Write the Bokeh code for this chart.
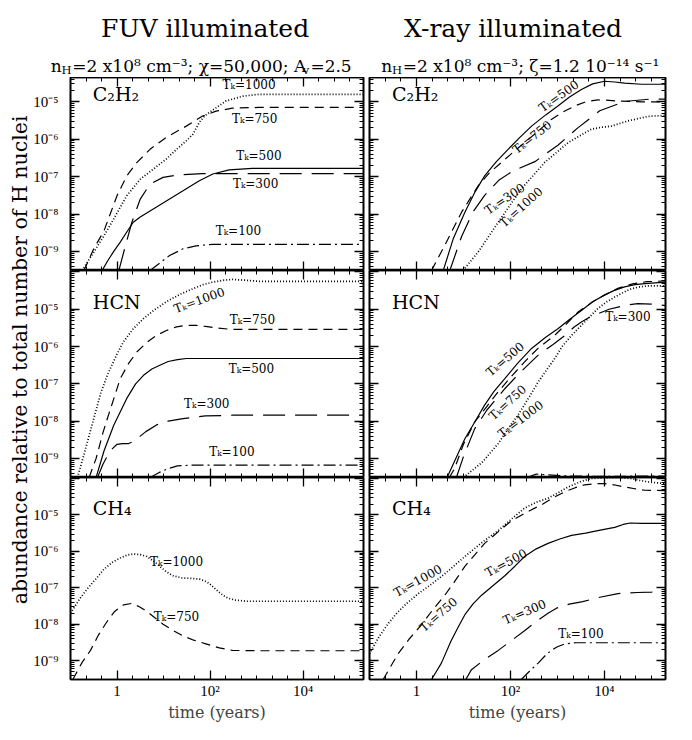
import math
from bokeh.plotting import figure
from bokeh.models import Range1d, LogAxis, FixedTicker, GridBox, CustomJSTickFormatter
from bokeh.core.properties import value
from bokeh.embed import file_html
from bokeh.resources import INLINE

FONT = "DejaVu Serif"
TICK_FONT = "Liberation Serif"

# ---------------- texts ----------------
TITLES = ["FUV illuminated", "X-ray illuminated"]
SUB_LEFT = [("n", "main"), ("H", "sub"), ("=2 x10⁸ cm⁻³; χ=50,000; A", "main"), ("v", "sub"), ("=2.5", "main")]
SUB_RIGHT = [("n", "main"), ("H", "sub"), ("=2 x10⁸ cm⁻³; ζ=1.2 10⁻¹⁴ s⁻¹", "main")]
YLABEL = "abundance relative to total number of H nuclei"
XLABEL = "time (years)"
MOLECULES = ["C₂H₂", "HCN", "CH₄"]

# ---------------- axes (log10 extents) ----------------
X_LOG_RANGE = (-1.0, 5.3)
Y_LOG_RANGES = [(-9.51, -4.35), (-9.51, -3.96), (-9.52, -3.97)]
X_TICK_EXP = [0, 2, 4]
X_TICK_LABELS = ["1", "10²", "10⁴"]
Y_TICK_EXP = [-9, -8, -7, -6, -5]
Y_TICK_LABELS = ["10⁻⁹", "10⁻⁸", "10⁻⁷", "10⁻⁶", "10⁻⁵"]

# ---------------- data: log10(time/yr), log10(abundance) ----------------
# FUV, C2H2
fuv_c2h2_t1000_lt = [-0.75, -0.5, -0.28, -0.07, 0.21, 0.5, 0.78, 1.06, 1.28, 1.49, 1.63, 1.77, 1.88, 2.06, 2.34, 2.7, 3.05, 4.0, 5.3]
fuv_c2h2_t1000_la = [-9.51, -9.02, -8.58, -8.13, -7.51, -7.07, -6.8, -6.53, -6.27, -6.04, -5.87, -5.55, -5.38, -5.22, -4.98, -4.85, -4.8, -4.8, -4.8]
fuv_c2h2_t750_lt = [-0.71, -0.5, -0.28, 0.0, 0.21, 0.43, 0.71, 1.06, 1.49, 1.84, 2.13, 2.48, 3.05, 5.3]
fuv_c2h2_t750_la = [-9.51, -8.93, -8.45, -7.51, -6.98, -6.62, -6.27, -5.95, -5.65, -5.38, -5.25, -5.17, -5.15, -5.15]
fuv_c2h2_t500_lt = [-0.32, -0.2, -0.07, 0.07, 0.21, 0.35, 0.5, 0.71, 1.06, 1.42, 1.77, 2.06, 2.41, 2.91, 5.3]
fuv_c2h2_t500_la = [-9.51, -9.25, -9.0, -8.75, -8.48, -8.22, -8.08, -7.92, -7.65, -7.38, -7.11, -6.93, -6.82, -6.78, -6.78]
fuv_c2h2_t300_lt = [0.04, 0.18, 0.32, 0.5, 0.71, 0.99, 1.35, 1.84, 5.3]
fuv_c2h2_t300_la = [-9.51, -8.85, -8.22, -7.6, -7.2, -7.02, -6.95, -6.92, -6.92]
fuv_c2h2_t100_lt = [0.71, 0.92, 1.13, 1.42, 1.7, 2.06, 5.3]
fuv_c2h2_t100_la = [-9.51, -9.31, -9.11, -8.93, -8.85, -8.81, -8.81]

# X-ray, C2H2
xr_c2h2_t1000_lt = [0.99, 1.31, 1.74, 2.23, 2.73, 3.23, 3.72, 3.95, 4.15, 4.5, 4.93, 5.3]
xr_c2h2_t1000_la = [-9.51, -9.02, -8.22, -7.33, -6.62, -6.09, -5.73, -5.68, -5.65, -5.51, -5.39, -5.36]
xr_c2h2_t750_lt = [0.32, 0.6, 0.96, 1.31, 1.55, 1.81, 2.1, 2.37, 2.62, 2.87, 3.12, 3.37, 3.6, 3.86, 4.1, 4.29, 4.79, 5.3]
xr_c2h2_t750_la = [-9.51, -8.84, -7.95, -7.25, -6.9, -6.62, -6.3, -6.02, -5.75, -5.47, -5.27, -5.11, -5.0, -4.95, -4.96, -4.98, -5.0, -5.0]
xr_c2h2_t500_lt = [0.57, 0.78, 1.03, 1.25, 1.45, 1.7, 1.95, 2.2, 2.45, 2.75, 3.01, 3.25, 3.51, 3.75, 4.0, 4.22, 4.43, 4.79, 5.3]
xr_c2h2_t500_la = [-9.51, -8.67, -7.95, -7.4, -6.98, -6.6, -6.27, -5.95, -5.65, -5.35, -5.11, -4.88, -4.67, -4.52, -4.45, -4.47, -4.5, -4.53, -4.53]
xr_c2h2_t300_lt = [0.71, 0.96, 1.2, 1.45, 1.75, 2.05, 2.52, 3.01, 3.44, 3.9, 4.43, 4.96, 5.3]
xr_c2h2_t300_la = [-9.51, -8.6, -7.95, -7.5, -7.1, -6.85, -6.6, -6.16, -5.69, -5.24, -4.99, -4.93, -4.93]

# FUV, HCN
fuv_hcn_t1000_lt = [-0.85, -0.7, -0.5, -0.35, -0.21, 0.0, 0.14, 0.35, 0.57, 0.8, 1.06, 1.35, 1.63, 1.85, 2.06, 2.3, 2.48, 2.75, 3.05, 5.3]
fuv_hcn_t1000_la = [-9.51, -8.85, -7.93, -7.25, -6.77, -6.2, -5.87, -5.52, -5.25, -5.02, -4.8, -4.6, -4.45, -4.34, -4.27, -4.22, -4.2, -4.22, -4.25, -4.25]
fuv_hcn_t750_lt = [-0.6, -0.45, -0.3, -0.2, 0.07, 0.25, 0.43, 0.65, 0.85, 1.06, 1.28, 1.5, 1.7, 1.9, 2.13, 2.48, 5.3]
fuv_hcn_t750_la = [-9.51, -9.0, -8.3, -7.9, -6.86, -6.45, -6.14, -5.88, -5.7, -5.57, -5.47, -5.43, -5.43, -5.46, -5.5, -5.54, -5.54]
fuv_hcn_t500_lt = [-0.45, -0.28, -0.07, 0.21, 0.4, 0.57, 0.75, 0.92, 1.1, 1.3, 1.49, 5.3]
fuv_hcn_t500_la = [-9.51, -8.8, -8.11, -7.39, -7.0, -6.77, -6.6, -6.5, -6.4, -6.35, -6.32, -6.32]
fuv_hcn_t300_lt = [-0.42, -0.3, -0.15, 0.0, 0.12, 0.25, 0.38, 0.5, 0.62, 0.85, 1.1, 1.42, 1.9, 2.5, 5.3]
fuv_hcn_t300_la = [-9.51, -9.15, -8.8, -8.62, -8.6, -8.6, -8.53, -8.4, -8.28, -8.1, -8.0, -7.93, -7.86, -7.84, -7.84]
fuv_hcn_t100_lt = [0.71, 0.9, 1.1, 1.3, 1.6, 5.3]
fuv_hcn_t100_la = [-9.51, -9.38, -9.27, -9.2, -9.18, -9.18]

# X-ray, HCN
xr_hcn_t1000_lt = [1.0, 1.4, 1.74, 1.95, 2.16, 2.4, 2.59, 2.94, 3.1, 3.3, 3.58, 3.86, 4.05, 4.22, 4.4, 4.57, 4.75, 4.93, 5.3]
xr_hcn_t1000_la = [-9.51, -9.1, -8.6, -8.2, -7.84, -7.35, -6.95, -6.32, -6.0, -5.7, -5.34, -4.98, -4.8, -4.67, -4.55, -4.45, -4.4, -4.37, -4.37]
xr_hcn_t750_lt = [0.7, 0.81, 1.0, 1.24, 1.5, 1.74, 2.0, 2.3, 2.6, 2.94, 3.2, 3.44, 3.75, 4.0, 4.3, 4.6, 4.9, 5.3]
xr_hcn_t750_la = [-9.51, -9.27, -8.62, -8.02, -7.6, -7.21, -6.83, -6.41, -6.03, -5.7, -5.38, -5.07, -4.8, -4.62, -4.43, -4.32, -4.26, -4.24]
xr_hcn_t500_lt = [0.65, 0.71, 1.03, 1.25, 1.45, 1.65, 1.88, 2.15, 2.45, 2.75, 3.01, 3.25, 3.51, 3.75, 4.0, 4.2, 4.43, 4.65, 4.86, 5.3]
xr_hcn_t500_la = [-9.51, -9.35, -8.47, -8.0, -7.57, -7.2, -6.86, -6.45, -6.05, -5.75, -5.52, -5.28, -5.03, -4.8, -4.62, -4.5, -4.4, -4.34, -4.31, -4.27]
xr_hcn_t300_lt = [0.85, 1.0, 1.24, 1.5, 1.88, 2.2, 2.59, 2.9, 3.16, 3.35, 3.51, 3.7, 3.86, 4.1, 4.29, 4.5, 4.71, 5.0, 5.3]
xr_hcn_t300_la = [-9.51, -8.95, -8.2, -7.7, -7.13, -6.7, -6.23, -5.95, -5.7, -5.48, -5.34, -5.2, -5.12, -5.0, -4.94, -4.88, -4.85, -4.86, -4.9]
xr_hcn_t100_lt = [2.35, 2.55, 2.8, 3.2, 4.0, 5.3]
xr_hcn_t100_la = [-9.51, -9.42, -9.44, -9.47, -9.48, -9.47]

# FUV, CH4
fuv_ch4_t1000_lt = [-1.0, -0.8, -0.64, -0.45, -0.28, -0.1, 0.07, 0.22, 0.35, 0.5, 0.64, 0.8, 0.92, 1.05, 1.21, 1.4, 1.56, 1.77, 1.9, 1.99, 2.13, 2.27, 2.4, 2.55, 2.8, 3.05, 5.3]
fuv_ch4_t1000_la = [-7.7, -7.3, -7.03, -6.75, -6.49, -6.3, -6.18, -6.1, -6.07, -6.09, -6.14, -6.28, -6.41, -6.55, -6.67, -6.73, -6.74, -6.76, -6.82, -6.89, -7.05, -7.2, -7.29, -7.34, -7.37, -7.37, -7.37]
fuv_ch4_t750_lt = [-0.95, -0.75, -0.57, -0.4, -0.21, -0.05, 0.14, 0.32, 0.48, 0.64, 0.82, 0.99, 1.2, 1.42, 1.65, 1.91, 2.2, 2.48, 3.05, 5.3]
fuv_ch4_t750_la = [-9.52, -9.05, -8.72, -8.3, -7.92, -7.65, -7.47, -7.43, -7.52, -7.65, -7.83, -8.0, -8.17, -8.32, -8.44, -8.54, -8.65, -8.72, -8.73, -8.73]

# X-ray, CH4
xr_ch4_t1000_lt = [-1.0, -0.8, -0.6, -0.4, -0.2, 0.05, 0.32, 0.6, 1.03, 1.4, 1.74, 2.05, 2.3, 2.55, 2.8, 3.0, 3.23, 3.5, 3.72, 4.0, 4.3, 4.57, 4.75, 4.93, 5.3]
xr_ch4_t1000_la = [-8.81, -8.35, -7.98, -7.67, -7.42, -7.15, -6.9, -6.62, -6.14, -5.75, -5.43, -5.08, -4.81, -4.65, -4.54, -4.4, -4.23, -4.08, -4.0, -3.98, -3.97, -4.0, -4.05, -4.09, -4.14]
xr_ch4_t750_lt = [-0.71, -0.39, -0.15, 0.11, 0.35, 0.6, 0.8, 1.03, 1.25, 1.45, 1.75, 2.02, 2.35, 2.66, 2.9, 3.16, 3.38, 3.58, 3.8, 4.0, 4.2, 4.43, 4.65, 4.86, 5.3]
xr_ch4_t750_la = [-9.52, -8.81, -8.4, -8.01, -7.6, -7.21, -6.85, -6.41, -6.08, -5.78, -5.45, -5.16, -4.92, -4.72, -4.53, -4.36, -4.25, -4.17, -4.14, -4.14, -4.17, -4.23, -4.28, -4.32, -4.33]
xr_ch4_t500_lt = [0.32, 0.53, 0.74, 0.9, 1.03, 1.2, 1.38, 1.62, 1.88, 2.1, 2.3, 2.55, 2.8, 3.05, 3.3, 3.6, 3.86, 4.05, 4.22, 4.4, 4.55, 4.79, 5.3]
xr_ch4_t500_la = [-9.52, -9.07, -8.45, -8.05, -7.74, -7.45, -7.21, -6.95, -6.67, -6.4, -6.14, -5.93, -5.78, -5.66, -5.56, -5.5, -5.43, -5.38, -5.34, -5.26, -5.22, -5.23, -5.23]
xr_ch4_t300_lt = [1.05, 1.17, 1.45, 1.74, 2.0, 2.3, 2.6, 2.8, 2.98, 3.25, 3.54, 3.9, 4.29, 4.7, 5.0, 5.3]
xr_ch4_t300_la = [-9.52, -9.25, -8.97, -8.72, -8.47, -8.18, -7.88, -7.7, -7.56, -7.45, -7.38, -7.26, -7.16, -7.13, -7.12, -7.1]
xr_ch4_t100_lt = [2.23, 2.4, 2.59, 2.75, 2.87, 3.0, 3.16, 3.4, 5.3]
xr_ch4_t100_la = [-9.52, -9.3, -9.07, -8.85, -8.72, -8.62, -8.54, -8.51, -8.51]

# ---------------- curve labels: T_k value, log t, log a, angle (deg) ----------------
fuv_c2h2_lab_tk = [1000, 750, 500, 300, 100]
fuv_c2h2_lab_lt = [2.84, 2.96, 3.05, 2.98, 2.61]
fuv_c2h2_lab_la = [-4.55, -5.45, -6.45, -7.2, -8.45]
fuv_c2h2_lab_ang = [0, 0, 0, 0, 0]

xr_c2h2_lab_tk = [500, 750, 300, 1000]
xr_c2h2_lab_lt = [3.03, 2.46, 1.88, 2.23]
xr_c2h2_lab_la = [-4.85, -5.95, -7.6, -7.82]
xr_c2h2_lab_ang = [35, 38, 34, 42]

fuv_hcn_lab_tk = [1000, 750, 500, 300, 100]
fuv_hcn_lab_lt = [1.77, 2.91, 2.89, 1.93, 2.47]
fuv_hcn_lab_la = [-4.76, -5.29, -6.59, -7.53, -8.82]
fuv_hcn_lab_ang = [20, 0, 0, 0, 0]

xr_hcn_lab_tk = [500, 750, 1000, 300]
xr_hcn_lab_lt = [1.89, 1.94, 2.22, 4.5]
xr_hcn_lab_la = [-6.34, -7.5, -7.95, -5.2]
xr_hcn_lab_ang = [40, 42, 37, 0]

fuv_ch4_lab_tk = [1000, 750]
fuv_ch4_lab_lt = [1.28, 1.28]
fuv_ch4_lab_la = [-6.3, -7.81]
fuv_ch4_lab_ang = [0, 0]

xr_ch4_lab_tk = [1000, 750, 500, 300, 100]
xr_ch4_lab_lt = [0.03, 0.47, 1.91, 2.3, 3.5]
xr_ch4_lab_la = [-6.81, -7.74, -6.32, -7.67, -8.27]
xr_ch4_lab_ang = [29, 41, 28, 23, 0]

MOL_LT = -0.52
MOL_LA = -4.8

# ---------------- assemble ----------------
PANELS = [
    [
        dict(curves=[(1000, fuv_c2h2_t1000_lt, fuv_c2h2_t1000_la), (750, fuv_c2h2_t750_lt, fuv_c2h2_t750_la),
                     (500, fuv_c2h2_t500_lt, fuv_c2h2_t500_la), (300, fuv_c2h2_t300_lt, fuv_c2h2_t300_la),
                     (100, fuv_c2h2_t100_lt, fuv_c2h2_t100_la)],
             labels=(fuv_c2h2_lab_tk, fuv_c2h2_lab_lt, fuv_c2h2_lab_la, fuv_c2h2_lab_ang)),
        dict(curves=[(1000, xr_c2h2_t1000_lt, xr_c2h2_t1000_la), (750, xr_c2h2_t750_lt, xr_c2h2_t750_la),
                     (500, xr_c2h2_t500_lt, xr_c2h2_t500_la), (300, xr_c2h2_t300_lt, xr_c2h2_t300_la)],
             labels=(xr_c2h2_lab_tk, xr_c2h2_lab_lt, xr_c2h2_lab_la, xr_c2h2_lab_ang)),
    ],
    [
        dict(curves=[(1000, fuv_hcn_t1000_lt, fuv_hcn_t1000_la), (750, fuv_hcn_t750_lt, fuv_hcn_t750_la),
                     (500, fuv_hcn_t500_lt, fuv_hcn_t500_la), (300, fuv_hcn_t300_lt, fuv_hcn_t300_la),
                     (100, fuv_hcn_t100_lt, fuv_hcn_t100_la)],
             labels=(fuv_hcn_lab_tk, fuv_hcn_lab_lt, fuv_hcn_lab_la, fuv_hcn_lab_ang)),
        dict(curves=[(1000, xr_hcn_t1000_lt, xr_hcn_t1000_la), (750, xr_hcn_t750_lt, xr_hcn_t750_la),
                     (500, xr_hcn_t500_lt, xr_hcn_t500_la), (300, xr_hcn_t300_lt, xr_hcn_t300_la),
                     (100, xr_hcn_t100_lt, xr_hcn_t100_la)],
             labels=(xr_hcn_lab_tk, xr_hcn_lab_lt, xr_hcn_lab_la, xr_hcn_lab_ang)),
    ],
    [
        dict(curves=[(1000, fuv_ch4_t1000_lt, fuv_ch4_t1000_la), (750, fuv_ch4_t750_lt, fuv_ch4_t750_la)],
             labels=(fuv_ch4_lab_tk, fuv_ch4_lab_lt, fuv_ch4_lab_la, fuv_ch4_lab_ang)),
        dict(curves=[(1000, xr_ch4_t1000_lt, xr_ch4_t1000_la), (750, xr_ch4_t750_lt, xr_ch4_t750_la),
                     (500, xr_ch4_t500_lt, xr_ch4_t500_la), (300, xr_ch4_t300_lt, xr_ch4_t300_la),
                     (100, xr_ch4_t100_lt, xr_ch4_t100_la)],
             labels=(xr_ch4_lab_tk, xr_ch4_lab_lt, xr_ch4_lab_la, xr_ch4_lab_ang)),
    ],
]

STYLES = {
    1000: dict(line_dash="1 2", line_width=1.7),
    750: dict(line_dash="9 6", line_width=1.2),
    500: dict(line_dash="solid", line_width=1.2),
    300: dict(line_dash="22 10", line_width=1.2),
    100: dict(line_dash="12 4 2 4", line_width=1.2),
}

# ---------------- layout geometry (px) ----------------
TOTAL_W = 676
HEADER_H = 77
YLAB_W = 30
FRAME_W = 296
COL_BORDERS = [(37, 3), (3, 11)]   # (left, right)
ROW_FRAME_H = [193, 207, 207]
BOTTOM_BORDER = 40
BODY_H = sum(ROW_FRAME_H) + BOTTOM_BORDER

X_MAJOR = [10.0 ** e for e in X_TICK_EXP]
X_MINOR = [10.0 ** (k / 3.0) for k in range(-3, 17) if k % 6 != 0]
Y_MAJOR = [10.0 ** e for e in range(-10, -2)]
Y_MINOR = [m * 10.0 ** e for e in range(-10, -3) for m in range(2, 10)]

FMT_CODE = """
const e = Math.log10(tick);
for (let i = 0; i < ex.length; i++) {
    if (Math.abs(e - ex[i]) < 1e-6) { return lb[i]; }
}
return "";
"""


def style_axis(ax, labeled, exps, labels, size):
    ax.axis_line_color = "black"
    ax.axis_line_width = 1.6
    ax.major_tick_in = 9
    ax.major_tick_out = 0
    ax.minor_tick_in = 4
    ax.minor_tick_out = 0
    ax.major_tick_line_width = 1.3
    ax.minor_tick_line_width = 1.0
    ax.major_tick_line_color = "black"
    ax.minor_tick_line_color = "black"
    if labeled:
        ax.formatter = CustomJSTickFormatter(args=dict(ex=exps, lb=labels), code=FMT_CODE)
        ax.major_label_text_font = TICK_FONT
        ax.major_label_text_font_size = size
        ax.major_label_text_color = "black"
    else:
        ax.formatter = CustomJSTickFormatter(code="return '';")
        ax.major_label_text_font_size = "0px"
        ax.major_label_standoff = 0


def make_panel(r, c):
    lb, rb = COL_BORDERS[c]
    bb = BOTTOM_BORDER if r == 2 else 0
    ylo, yhi = Y_LOG_RANGES[r]
    p = figure(width=lb + FRAME_W + rb, height=ROW_FRAME_H[r] + bb,
               x_axis_type="log", y_axis_type="log",
               x_axis_location=None, y_axis_location=None,
               x_range=Range1d(10 ** X_LOG_RANGE[0], 10 ** X_LOG_RANGE[1]),
               y_range=Range1d(10 ** ylo, 10 ** yhi),
               min_border_left=lb, min_border_right=rb, min_border_top=0, min_border_bottom=bb,
               output_backend="svg", toolbar_location=None)
    p.grid.visible = False
    p.outline_line_color = "black"
    p.outline_line_width = 1.6
    p.background_fill_color = "white"
    p.border_fill_color = "white"

    for loc in ["below", "above"]:
        ax = LogAxis(ticker=FixedTicker(ticks=X_MAJOR, minor_ticks=X_MINOR))
        labeled = (loc == "below" and r == 2)
        style_axis(ax, labeled, X_TICK_EXP, X_TICK_LABELS, "15px")
        if labeled:
            ax.major_label_standoff = 3
            ax.axis_label = XLABEL
            ax.axis_label_text_font = FONT
            ax.axis_label_text_font_size = "16px"
            ax.axis_label_text_font_style = "normal"
            ax.axis_label_standoff = 1
        p.add_layout(ax, loc)
    for loc in ["left", "right"]:
        ax = LogAxis(ticker=FixedTicker(ticks=Y_MAJOR, minor_ticks=Y_MINOR))
        labeled = (loc == "left" and c == 0)
        style_axis(ax, labeled, Y_TICK_EXP, Y_TICK_LABELS, "15px")
        if labeled:
            ax.major_label_standoff = 12
        p.add_layout(ax, loc)

    spec = PANELS[r][c]
    for tk, lt, la in spec["curves"]:
        st = STYLES[tk]
        p.line(x=[10 ** v for v in lt], y=[10 ** v for v in la], line_color="black",
               line_width=st["line_width"], line_dash=st["line_dash"])
    tks, llt, lla, lang = spec["labels"]
    p.text(x=[10 ** v for v in llt], y=[10 ** v for v in lla],
           text=["Tₖ=%d" % t for t in tks], angle=lang, angle_units="deg",
           text_font=value(FONT), text_font_size="12px", text_color="black",
           text_align="center", text_baseline="middle")
    p.text(x=[10 ** MOL_LT], y=[10 ** MOL_LA], text=[MOLECULES[r]],
           text_font=value(FONT), text_font_size="19px", text_color="black",
           text_align="left", text_baseline="middle")
    return p


def blank_figure(w, h):
    f = figure(width=w, height=h, x_range=Range1d(0, w), y_range=Range1d(0, h),
               x_axis_location=None, y_axis_location=None,
               min_border_left=0, min_border_right=0, min_border_top=0, min_border_bottom=0,
               output_backend="svg", toolbar_location=None)
    f.grid.visible = False
    f.outline_line_color = None
    f.background_fill_color = "white"
    f.border_fill_color = "white"
    return f


# glyph advance widths (em) used to chain the subtitle pieces
ADV = {' ': 0.318, ',': 0.318, '.': 0.318, ';': 0.337, '=': 0.838, 'n': 0.644, 'x': 0.592,
       'c': 0.56, 'm': 0.948, 's': 0.514, 'A': 0.722, 'H': 0.872, 'v': 0.592, 'χ': 0.6,
       'ζ': 0.5, '⁸': 0.401, '⁻': 0.527, '³': 0.401, '¹': 0.401, '⁴': 0.401}
MAIN_SIZE = 17.0
SUB_SIZE = 11.5


def adv(s, size):
    return sum(ADV.get(ch, 0.636) for ch in s) * size


def subtitle_pieces(pieces, x0):
    xs, ys, texts, sizes = [], [], [], []
    x = x0
    for txt, kind in pieces:
        size = MAIN_SIZE if kind == "main" else SUB_SIZE
        xs.append(x)
        ys.append(HEADER_H - 65 if kind == "main" else HEADER_H - 69)
        texts.append(txt)
        sizes.append("%gpx" % size)
        x += adv(txt, size) + (1 if kind == "sub" else 0)
    return xs, ys, texts, sizes


header = blank_figure(TOTAL_W, HEADER_H)
header.text(x=[208, 521], y=[HEADER_H - 28] * 2, text=TITLES,
            text_font=value(FONT), text_font_size="25px", text_color="black",
            text_align="center", text_baseline="alphabetic")
for pieces, x0 in [(SUB_LEFT, 51), (SUB_RIGHT, 387)]:
    xs, ys, texts, sizes = subtitle_pieces(pieces, x0)
    header.text(x=xs, y=ys, text=texts, text_font_size=sizes,
                text_font=value(FONT), text_color="black",
                text_align="left", text_baseline="alphabetic")

ylab = blank_figure(YLAB_W, BODY_H)
ylab.text(x=[19], y=[BODY_H - sum(ROW_FRAME_H) / 2.0], text=[YLABEL],
          angle=math.pi / 2, text_font=value(FONT), text_font_size="20.5px", text_color="black",
          text_align="center", text_baseline="middle")

panels = [[make_panel(r, c) for c in range(2)] for r in range(3)]

children = [(header, 0, 0, 1, 3), (ylab, 1, 0, 3, 1)]
for r in range(3):
    for c in range(2):
        children.append((panels[r][c], r + 1, c + 1))
grid = GridBox(children=children, spacing=0)

open("out.html", "w").write(file_html(grid, INLINE))
